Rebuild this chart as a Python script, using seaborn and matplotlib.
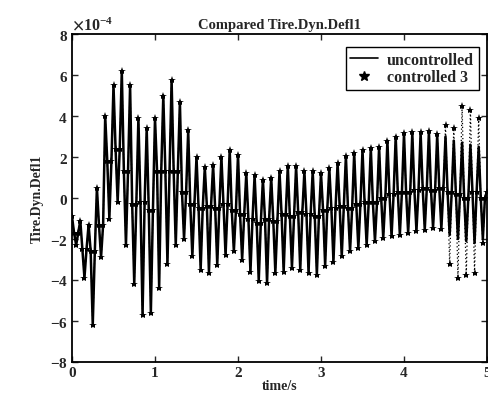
"""Compared Tire.Dyn.Defl1 - uncontrolled vs controlled 3."""
import matplotlib
matplotlib.use("Agg")
import matplotlib.pyplot as plt
from matplotlib.lines import Line2D
import numpy as np
import pandas as pd
import seaborn as sns

# sample times (s): peak / mid / trough / mid every 0.025 s
time_s = [round(0.025 * i, 3) for i in range(201)]

# uncontrolled tire dynamic deflection extremes (one every 0.05 s), units of 1e-4
uncontrolled_ext = [
    -0.9, -2.3, -1.1, -3.9, -1.3, -6.2, 0.5, -2.9, 4.0, -1.0,
    5.5, -0.2, 6.2, -2.3, 5.5, -4.2, 3.9, -5.7, 3.4, -5.6,
    3.9, -4.4, 5.0, -3.2, 5.75, -2.3, 4.7, -2.0, 3.3, -2.85,
    2.0, -3.5, 1.5, -3.65, 1.6, -3.25, 2.0, -2.8, 2.35, -2.6,
    2.1, -3.0, 1.2, -3.6, 1.1, -4.05, 0.9, -4.15, 1.0, -3.65,
    1.3, -3.6, 1.55, -3.4, 1.55, -3.5, 1.3, -3.65, 1.3, -3.75,
    1.2, -3.3, 1.45, -3.1, 1.7, -2.85, 2.05, -2.6, 2.2, -2.45,
    2.35, -2.3, 2.45, -2.1, 2.5, -1.95, 2.8, -1.87, 3.0, -1.8,
    3.15, -1.7, 3.2, -1.6, 3.2, -1.55, 3.25, -1.45, 3.1, -1.5,
    3.0, -1.8, 2.8, -2.0, 2.7, -2.1, 2.6, -2.2, 2.5, -2.0,
    0.3,
]

# level the trace crosses in each 0.1 s cycle (dense band in the picture)
cycle_mid = [
    -1.7, -2.5, -2.6, -1.3, 1.8, 2.4, 1.3, -0.3, -0.2, -0.6,
    1.3, 1.3, 1.3, 0.3, -0.3, -0.5, -0.4, -0.5, -0.3, -0.6,
    -0.8, -1.0, -1.2, -1.0, -1.1, -0.8, -0.9, -0.7, -0.8, -0.9,
    -0.6, -0.5, -0.4, -0.5, -0.3, -0.2, -0.2, 0.0, 0.2, 0.3,
    0.3, 0.4, 0.5, 0.4, 0.5, 0.3, 0.2, 0.0, 0.3, 0.0,
]

# controlled 3 follows the uncontrolled trace until 4.45 s, then departs
controlled_tail = [3.55, -3.2, 3.4, -3.9, 4.5, -3.75, 4.3, -3.65, 3.9, -2.2, 0.3]
controlled_ext = uncontrolled_ext[:90] + controlled_tail


def with_mids(ext):
    out = []
    for k, mid in enumerate(cycle_mid):
        out += [ext[2 * k], mid, ext[2 * k + 1], mid]
    out.append(ext[-1])
    return out


df = pd.DataFrame({
    "time": time_s,
    "uncontrolled": np.array(with_mids(uncontrolled_ext)) * 1e-4,
    "controlled": np.array(with_mids(controlled_ext)) * 1e-4,
})

sns.set_theme(style="ticks")
plt.rcParams["font.family"] = ["Liberation Serif", "DejaVu Serif"]
plt.rcParams["font.weight"] = "bold"
plt.rcParams["mathtext.fontset"] = "stix"
plt.rcParams["axes.unicode_minus"] = False

fig = plt.figure(figsize=(4.88, 4.02), dpi=100)
ax = fig.add_axes([72 / 488, 1 - 363 / 402, 415 / 488, 328 / 402])

sns.lineplot(data=df, x="time", y="uncontrolled", ax=ax, color="black",
             linewidth=1.8, estimator=None, legend=False)
sns.lineplot(data=df, x="time", y="controlled", ax=ax, color="black",
             linewidth=0.9, linestyle=(0, (1, 2)), marker="*", markersize=6,
             markeredgewidth=0, estimator=None, legend=False)

ax.set_xlim(0, 5)
ax.set_ylim(-8e-4, 8e-4)
ax.set_xticks([0, 1, 2, 3, 4, 5])
ax.set_yticks(np.arange(-8, 9, 2) * 1e-4)
ax.ticklabel_format(axis="y", style="sci", scilimits=(0, 0), useMathText=True)
ax.yaxis.get_offset_text().set_fontsize(11.5)

ax.tick_params(direction="in", top=True, right=True, length=4, width=1,
               labelsize=11, pad=3)
for lab in ax.get_xticklabels() + ax.get_yticklabels():
    lab.set_fontweight("bold")
for sp in ax.spines.values():
    sp.set_visible(True)
    sp.set_linewidth(1.3)
    sp.set_color("black")

ax.set_title("Compared Tire.Dyn.Defl1", fontsize=10.5, fontweight="bold", pad=4)
ax.set_xlabel("time/s", fontsize=10, fontweight="bold", labelpad=0)
ax.set_ylabel("Tire.Dyn.Defl1", fontsize=10, fontweight="bold", labelpad=4)

handles = [
    Line2D([], [], color="black", linewidth=1.2),
    Line2D([], [], color="black", linestyle="none", marker="*", markersize=7),
]
leg = ax.legend(handles, ["uncontrolled", "controlled 3"], loc="upper right",
                bbox_to_anchor=(1.0, 0.985), fancybox=False, framealpha=1,
                edgecolor="black", fontsize=11.5, handlelength=1.7,
                borderpad=0.3, labelspacing=0.1, handletextpad=0.6)
leg.get_frame().set_linewidth(1.0)
for txt in leg.get_texts():
    txt.set_fontweight("bold")

fig.savefig("out.png", dpi=100)
